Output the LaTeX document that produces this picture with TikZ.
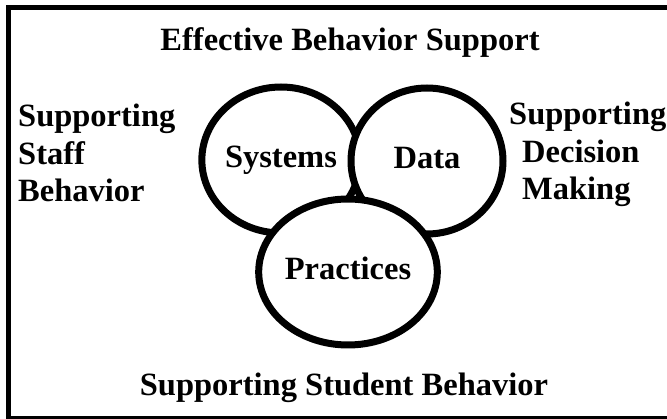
\documentclass[tikz,border=0pt]{standalone}
\usepackage{fontspec}
\setmainfont{Liberation Serif}
\usetikzlibrary{shapes.geometric}
\begin{document}
\begin{tikzpicture}[x=1pt, y=-1pt, words/.style = {font=\fontsize{32.5}{37.5}\selectfont\bfseries, inner sep=0pt}, ring/.style = {draw, ellipse, fill=white, line width=7pt, minimum width=152pt, minimum height=146pt, inner sep=0pt, text height=22pt, text depth=7pt}]

		\useasboundingbox (0,0) rectangle (667,419);
		\draw[line width=5.5pt] (8.5,7.5) rectangle (675,418.75);

		\node[ring, words] (S) at (281,160) {Systems};
		\node[ring, words] (D) at (427,161) {Data};
		\node[ring, words] (P) at (348,272) {Practices};

		\node[words, anchor=base] (T) at (350,51) {Effective Behavior Support};
		\node[words, anchor=base] (B) at (344,396) {Supporting Student Behavior};
		\node[words, anchor=base west, align=left] (L) at (18,202) {Supporting\\Staff\\Behavior};
		\node[words, anchor=base west, align=left] (R) at (509,200) {Supporting\\\hspace*{13pt}Decision\\\hspace*{13pt}Making};
	\end{tikzpicture}
\end{document}
